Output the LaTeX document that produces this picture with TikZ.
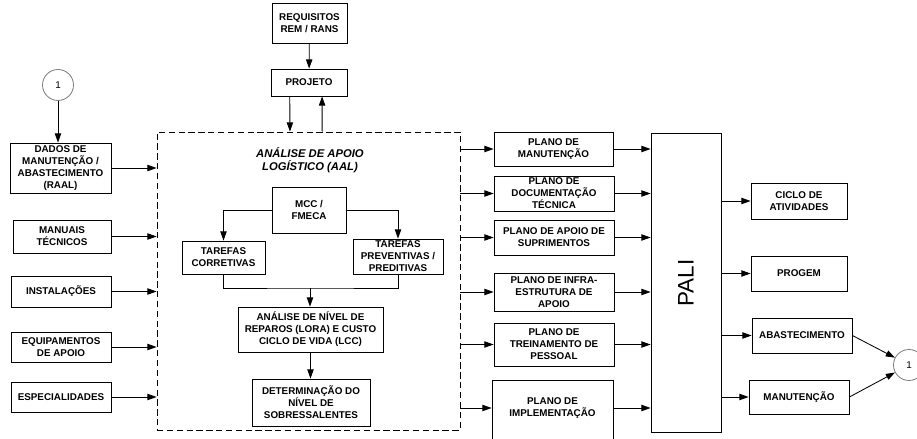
\documentclass[tikz,border=0pt]{standalone}
\usepackage{fontspec}
\setmainfont{Liberation Sans}
\usetikzlibrary{arrows.meta, positioning, calc}

\begin{document}
\begin{tikzpicture}[
    x=0.025cm, y=-0.025cm,
    box/.style={draw,rectangle,align=center,inner sep=1pt,line width=0.6pt,font=\bfseries\fontsize{7}{8.6}\selectfont},
    boxsize/.style 2 args={minimum width=#1*0.025cm,minimum height=#2*0.025cm},
    conn/.style={circle,draw=gray,line width=0.6pt,minimum size=31*0.025cm,inner sep=0pt,font=\fontsize{7}{8}\selectfont},
    arrow/.style={-{Triangle[length=6.5pt,width=4.5pt]},line width=0.6pt},
    line/.style={line width=0.6pt}
]
    \useasboundingbox (0,0) rectangle (917,439);

    % Top inputs
    \node[box,boxsize={75}{40}] (req) at (309.5,23) {REQUISITOS\\REM / RANS};
    \node[box,boxsize={76}{27}] (proj) at (309,82.5) {PROJETO};

    % Dashed AAL region
    \node[draw,dash pattern=on 4.5pt off 2.5pt,line width=0.6pt,boxsize={303}{298}] (aal) at (308.5,281) {};
    \node[font=\bfseries\itshape\fontsize{8}{9.6}\selectfont,align=center] (aaltitle) at (310,160) {ANÁLISE DE APOIO\\LOGÍSTICO (AAL)};

    % Left inputs
    \node[conn] (c1) at (58,85) {1};
    \node[box,boxsize={101}{50}] (dados) at (60.5,168) {DADOS DE\\MANUTENÇÃO /\\ABASTECIMENTO\\(RAAL)};
    \node[box,boxsize={98}{33}] (manuais) at (62,236.5) {MANUAIS\\TÉCNICOS};
    \node[box,boxsize={100}{31}] (inst) at (61,291.5) {INSTALAÇÕES};
    \node[box,boxsize={100}{30}] (equip) at (61,347) {EQUIPAMENTOS\\DE APOIO};
    \node[box,boxsize={100}{30}] (espec) at (61,397) {ESPECIALIDADES};

    % Inside AAL
    \node[box,boxsize={74}{46}] (mcc) at (309,210) {MCC /\\FMECA};
    \node[box,boxsize={83}{33}] (corr) at (223.5,257.5) {TAREFAS\\CORRETIVAS};
    \node[box,boxsize={90}{35},inner sep=0pt] (prev) at (398,256.5) {TAREFAS\\PREVENTIVAS /\\PREDITIVAS};
    \node[box,boxsize={145}{45}] (lora) at (310.5,329.5) {ANÁLISE DE NÍVEL DE\\REPAROS (LORA) E CUSTO\\CICLO DE VIDA (LCC)};
    \node[box,boxsize={118}{47}] (det) at (311,402.5) {DETERMINAÇÃO DO\\NÍVEL DE\\SOBRESSALENTES};
    \coordinate (join) at (310,288);

    % Plans
    \node[box,boxsize={119}{34}] (pman) at (553.5,149) {PLANO DE\\MANUTENÇÃO};
    \node[box,boxsize={120}{35},inner sep=0pt] (pdoc) at (554,193.5) {PLANO DE\\DOCUMENTAÇÃO\\TÉCNICA};
    \node[box,boxsize={120}{35}] (psup) at (554,237.5) {PLANO DE APOIO DE\\SUPRIMENTOS};
    \node[box,boxsize={120}{38}] (pinf) at (554,292) {PLANO DE INFRA-\\ESTRUTURA DE\\APOIO};
    \node[box,boxsize={120}{43}] (ptre) at (554,344.5) {PLANO DE\\TREINAMENTO DE\\PESSOAL};
    \node[box,boxsize={121}{65}] (pimp) at (552.5,412.5) {};
    \node[font=\bfseries\fontsize{7}{8.6}\selectfont,align=center] (pimptext) at (552.5,408) {PLANO DE\\IMPLEMENTAÇÃO};

    % PALI and outputs
    \node[draw,line width=0.6pt,boxsize={70}{299}] (pali) at (686,282.5) {};
    \node[rotate=90,font=\fontsize{16}{18}\selectfont] (palitext) at (686,283) {PALI};
    \node[box,boxsize={96}{36}] (ciclo) at (799,201) {CICLO DE\\ATIVIDADES};
    \node[box,boxsize={96}{35}] (progem) at (799,273.5) {PROGEM};
    \node[box,boxsize={100}{35}] (abast) at (802,335.5) {ABASTECIMENTO};
    \node[box,boxsize={100}{34}] (manut) at (799,397) {MANUTENÇÃO};
    \node[conn] (c2) at (909,365) {1};

    % Top connectors
    \draw[arrow] (req) -- (proj);
    \draw[arrow] ($(proj.south west)!0.25!(proj.south east)$) -- ($(aal.north west)!0.439!(aal.north east)$);
    \draw[arrow] ($(aal.north west)!0.545!(aal.north east)$) -- ($(proj.south west)!0.67!(proj.south east)$);

    % Left connectors
    \draw[arrow] (c1.south) -- (c1.south |- dados.north);
    \foreach \n in {dados,manuais,inst,equip,espec}
        \draw[arrow] (\n.east) -- (\n.east -| aal.west);

    % Inside AAL
    \draw[arrow] (mcc.west) -| (corr.north);
    \draw[arrow] (mcc.east) -| (prev.north);
    \draw[line] (corr.south) |- (join) -| (prev.south);
    \draw[arrow] (join) -- (join |- lora.north);
    \draw[arrow] (lora.south) -- (lora.south |- det.north);

    % Plans
    \foreach \n in {pman,pdoc,psup,pinf,ptre}
    {
        \draw[arrow] (\n.west -| aal.east) -- (\n.west);
        \draw[arrow] (\n.east) -- (\n.east -| pali.west);
    }
    \draw[arrow] (pimptext.west -| aal.east) -- (pimptext.west -| pimp.west);
    \draw[arrow] (pimptext.east -| pimp.east) -- (pimptext.east -| pali.west);

    % Outputs
    \foreach \n in {ciclo,progem,abast,manut}
        \draw[arrow] (\n.west -| pali.east) -- (\n.west);
    \draw[arrow] (abast.east) -- (c2);
    \draw[arrow] (manut.east) -- (c2);
\end{tikzpicture}
\end{document}
